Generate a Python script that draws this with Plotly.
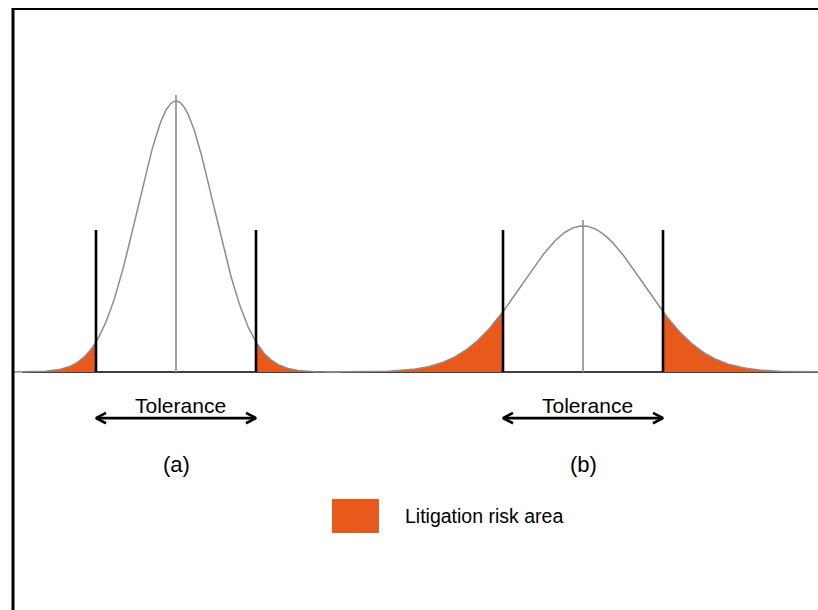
import numpy as np
import plotly.graph_objects as go

# ---- data ----
panel_labels = ["(a)", "(b)"]
centers = [0.0, 10.175]          # process mean of each panel
sigmas = [0.953, 1.504]          # spread of each distribution
peaks = [1.0, 0.539]             # relative peak heights
tolerance = 2.0                  # half-width of the tolerance band
tol_line_height = 0.524
tol_label = "Tolerance"
legend_label = "Litigation risk area"

ORANGE = "#E85A1B"
GRAY = "#8c8c8c"
FONT = "Liberation Sans, Arial"

fig = go.Figure()

# baseline
fig.add_trace(go.Scatter(x=[-3.85, 16.3], y=[0, 0], mode="lines",
                         line=dict(color="black", width=1.6), hoverinfo="skip"))

for c, s, p, lab in zip(centers, sigmas, peaks, panel_labels):
    span = 4.3 * s
    x = np.linspace(c - span, c + span, 400)
    y = p * np.exp(-0.5 * ((x - c) / s) ** 2)
    ytol = p * np.exp(-0.5 * (tolerance / s) ** 2)
    # tails
    for side in (-1, 1):
        if side < 0:
            m = x <= c - tolerance
            xt = np.append(x[m], c - tolerance)
            yt = np.append(y[m], ytol)
        else:
            m = x >= c + tolerance
            xt = np.insert(x[m], 0, c + tolerance)
            yt = np.insert(y[m], 0, ytol)
        fig.add_trace(go.Scatter(x=xt, y=yt, mode="lines", fill="tozeroy",
                                 fillcolor=ORANGE, line=dict(width=0),
                                 hoverinfo="skip"))
    # centre line
    fig.add_trace(go.Scatter(x=[c, c], y=[0, p + 0.022], mode="lines",
                             line=dict(color="#9a9a9a", width=1.8), hoverinfo="skip"))
    # curve
    fig.add_trace(go.Scatter(x=x, y=y, mode="lines",
                             line=dict(color=GRAY, width=1.5), hoverinfo="skip"))
    # tolerance limits
    for t in (c - tolerance, c + tolerance):
        fig.add_trace(go.Scatter(x=[t, t], y=[0, tol_line_height], mode="lines",
                                 line=dict(color="black", width=2.6), hoverinfo="skip"))
    # double arrow
    ay = -0.17
    hl, hh = 0.25, 0.019
    fig.add_trace(go.Scatter(x=[c - tolerance, c + tolerance], y=[ay, ay], mode="lines",
                             line=dict(color="black", width=2.6), hoverinfo="skip"))
    for tip, d in ((c - tolerance, 1), (c + tolerance, -1)):
        fig.add_trace(go.Scatter(x=[tip + d * hl, tip, tip + d * hl],
                                 y=[ay + hh, ay, ay - hh], mode="lines",
                                 line=dict(color="black", width=2.6), hoverinfo="skip"))
    fig.add_annotation(x=c + 0.1, y=-0.122, text=tol_label, showarrow=False,
                       font=dict(size=21, color="black", family=FONT))
    fig.add_annotation(x=c, y=-0.34, text=lab, showarrow=False,
                       font=dict(size=22, color="black", family=FONT))

# legend swatch and label
fig.add_shape(type="rect", xref="x", yref="y", x0=3.9, x1=5.075, y0=-0.594, y1=-0.4686,
              fillcolor=ORANGE, line=dict(width=0))
fig.add_annotation(x=5.675, y=-0.533, text=legend_label, showarrow=False, xanchor="left",
                   font=dict(size=19.5, color="black", family=FONT))

# frame
fig.add_shape(type="line", xref="paper", yref="paper", x0=13.5 / 818, x1=1.02,
              y0=1 - 9 / 610, y1=1 - 9 / 610, line=dict(color="black", width=2))
fig.add_shape(type="line", xref="paper", yref="paper", x0=13 / 818, x1=13 / 818,
              y0=-0.02, y1=1 - 8 / 610, line=dict(color="black", width=3))

fig.update_xaxes(range=[-4.4, 16.05], visible=False, fixedrange=True)
fig.update_yaxes(range=[-0.8782, 1.3727], visible=False, fixedrange=True)
fig.update_layout(width=818, height=610, margin=dict(l=0, r=0, t=0, b=0),
                  paper_bgcolor="white", plot_bgcolor="white", showlegend=False)

fig.write_html("out.html", config={"displayModeBar": False},
               post_script="document.body.style.margin='0';document.body.style.overflow='hidden';")
